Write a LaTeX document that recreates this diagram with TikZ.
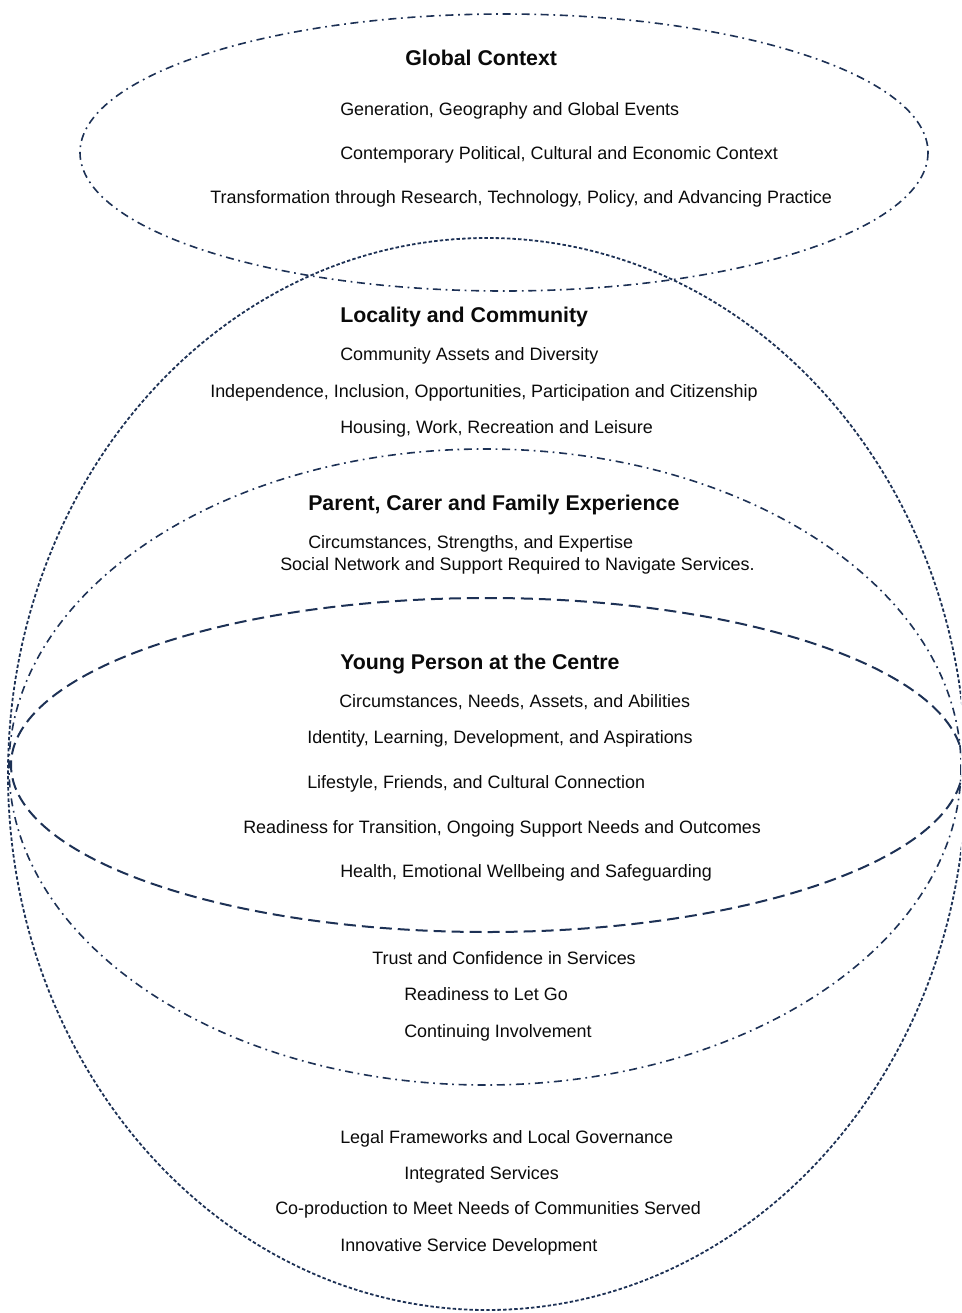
\documentclass[tikz,border=0pt]{standalone}
\usepackage{fontspec}
\setmainfont{Liberation Sans}
\definecolor{ring}{HTML}{1D3155}
\definecolor{ink}{HTML}{0A0A0A}
\tikzset{
  outer/.style={draw=ring, line width=1.35pt, dash pattern=on 2.6pt off 1.6pt},
  layer/.style={draw=ring, line width=1.2pt, dash pattern=on 6pt off 3.5pt on 1.3pt off 3.5pt},
  centre/.style={draw=ring, line width=1.5pt, dash pattern=on 9pt off 4.5pt},
  head/.style={anchor=base west, inner sep=0pt, text=ink, font=\bfseries\fontsize{16}{19}\selectfont},
  item/.style={anchor=base west, inner sep=0pt, text=ink, font=\fontsize{13.45}{16}\selectfont},
}

\begin{document}
\begin{tikzpicture}[x=0.75pt,y=-0.75pt]
  \useasboundingbox (0,0) rectangle (961,1313);
  \clip (0,0) rectangle (961,1313);

  % rings, outermost first
  \draw[outer]  (487,774) ellipse [x radius=479, y radius=536];
  \draw[layer]  (504,152.5) ellipse [x radius=424, y radius=138.5];
  \draw[layer]  (485,767) ellipse [x radius=476, y radius=318];
  \draw[centre] (487,765) ellipse [x radius=476, y radius=167];

  % global context
  \node[head] (global) at (405,66) {Global Context};
  \node[item] (gen)    at (340,115) {Generation, Geography and Global Events};
  \node[item] (cpol)   at (340,159) {Contemporary Political, Cultural and Economic Context};
  \node[item] (trans)  at (210,203) {Transformation through Research, Technology, Policy, and Advancing Practice};

  % locality and community
  \node[head] (local)  at (340,322) {Locality and Community};
  \node[item] (assets) at (340,360) {Community Assets and Diversity};
  \node[item] (indep)  at (210,397) {Independence, Inclusion, Opportunities, Participation and Citizenship};
  \node[item] (house)  at (340,433) {Housing, Work, Recreation and Leisure};

  % family
  \node[head] (family) at (308,510) {Parent, Carer and Family Experience};
  \node[item] (fcirc)  at (308,548) {Circumstances, Strengths, and Expertise};
  \node[item] (social) at (280,570) {Social Network and Support Required to Navigate Services.};

  % young person
  \node[head] (young)  at (340,669) {Young Person at the Centre};
  \node[item] (needs)  at (339,707) {Circumstances, Needs, Assets, and Abilities};
  \node[item] (ident)  at (307,743) {Identity, Learning, Development, and Aspirations};
  \node[item] (life)   at (307,788) {Lifestyle, Friends, and Cultural Connection};
  \node[item] (ready)  at (243,833) {Readiness for Transition, Ongoing Support Needs and Outcomes};
  \node[item] (health) at (340,877) {Health, Emotional Wellbeing and Safeguarding};

  % family, lower half
  \node[item] (trust)  at (372,964) {Trust and Confidence in Services};
  \node[item] (letgo)  at (404,1000) {Readiness to Let Go};
  \node[item] (cont)   at (404,1037) {Continuing Involvement};

  % services
  \node[item] (legal)  at (340,1143) {Legal Frameworks and Local Governance};
  \node[item] (integ)  at (404,1179) {Integrated Services};
  \node[item] (coprod) at (275,1214) {Co-production to Meet Needs of Communities Served};
  \node[item] (innov)  at (340,1251) {Innovative Service Development};
\end{tikzpicture}
\end{document}
